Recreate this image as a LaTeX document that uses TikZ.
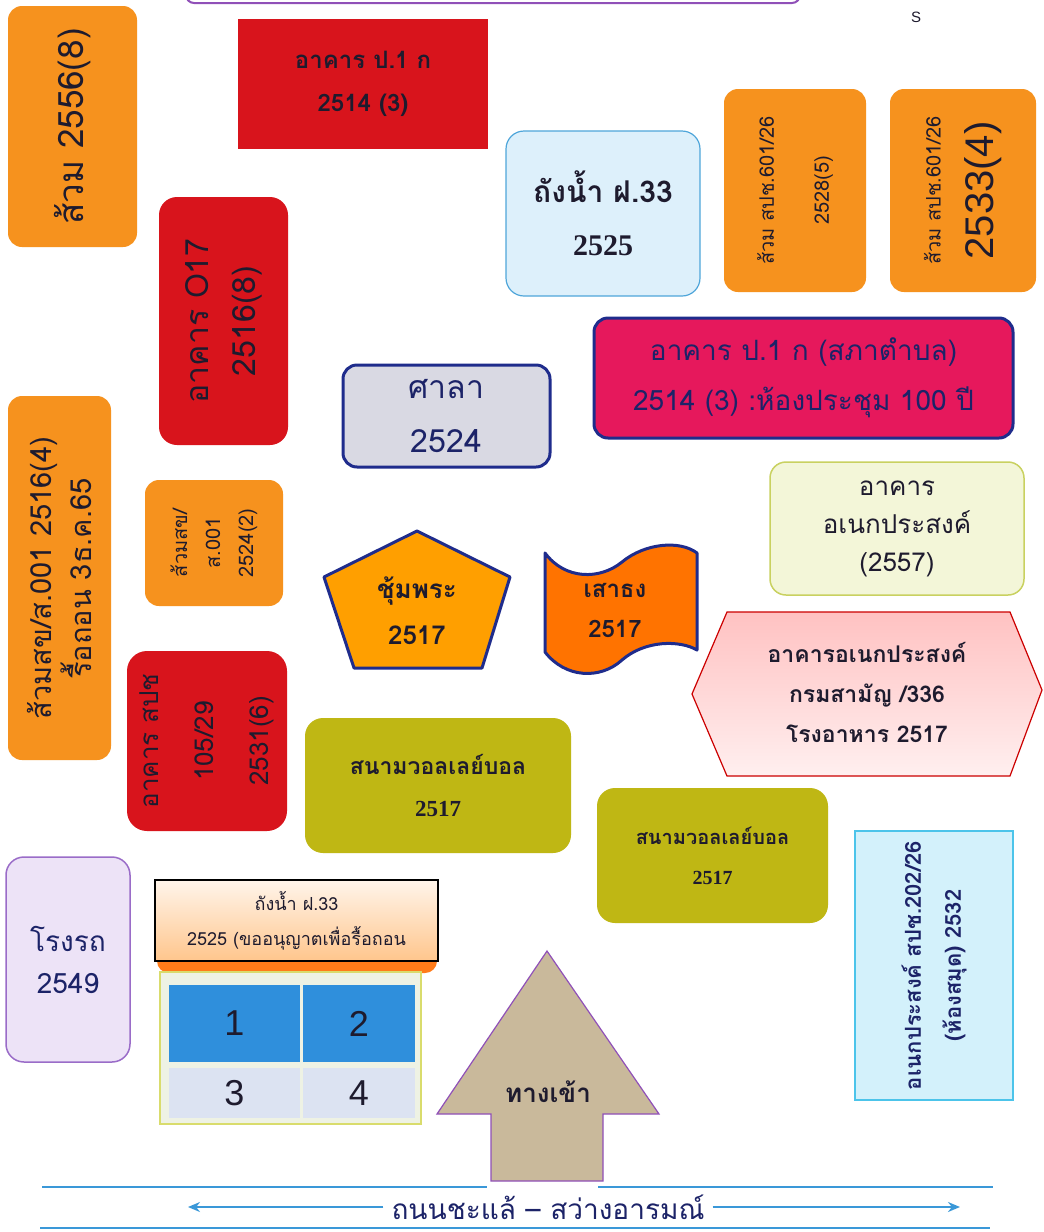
\documentclass[tikz,border=0pt]{standalone}
\usepackage{fontspec}
\newfontfamily\thai[Script=Thai]{Loma}
\newfontfamily\serifnum{Liberation Serif}
\newfontfamily\sansnum{Liberation Sans}
\usetikzlibrary{arrows.meta}
\newcommand{\fz}[2]{\fontsize{#1}{#2}\selectfont}
\definecolor{orgC}{HTML}{F6921E}
\definecolor{redC}{HTML}{D8141C}
\definecolor{pinkC}{HTML}{E6185C}
\definecolor{navyB}{HTML}{1F2C8C}
\definecolor{txtN}{HTML}{1C2368}
\definecolor{txtK}{HTML}{1E1B2E}
\definecolor{oliveC}{HTML}{BFB714}
\definecolor{skyF}{HTML}{DDF0FB}
\definecolor{skyB}{HTML}{4FA6DA}
\definecolor{cyanF}{HTML}{D3F1FB}
\definecolor{cyanB}{HTML}{4CC4EA}
\definecolor{lavF}{HTML}{EDE3F7}
\definecolor{lavB}{HTML}{9A6CC8}
\definecolor{greyF}{HTML}{D9D9E3}
\definecolor{creamF}{HTML}{F3F6D8}
\definecolor{creamB}{HTML}{C9D160}
\definecolor{blueCell}{HTML}{2F8FDC}
\definecolor{paleCell}{HTML}{DCE3F2}
\definecolor{gridB}{HTML}{D9DC6C}
\definecolor{gridF}{HTML}{EEF2E4}
\definecolor{beigeC}{HTML}{C9B99B}
\definecolor{purpB}{HTML}{9050B8}
\definecolor{roadC}{HTML}{3A98D8}
\tikzset{
  box/.style={inner sep=0pt, align=center, font=\thai, text=txtK},
  orgbox/.style={box, fill=orgC, rounded corners=14},
  redbox/.style={box, fill=redC},
  txt/.style={inner sep=0pt, align=center, font=\thai}
}
\begin{document}
\begin{tikzpicture}[x=1pt,y=-1pt]
\useasboundingbox (0,0) rectangle (1044,1232);
\fill[white] (0,0) rectangle (1044,1232);

% top purple frame (cut off)
\draw[purpB, line width=2, rounded corners=8] (186,-20) -- (186,3) -- (800,3) -- (800,-20);
\node[txt, font=\sansnum\fz{15}{17}, text=txtK] (smark) at (916,17) {S};

% A
\node[orgbox, rotate=90, minimum width=241, minimum height=129, font=\thai\fz{35}{40}] (s2556) at (72.5,126.5) {ส้วม 2556(8)};
% B
\node[redbox, minimum width=250, minimum height=130, font=\thai\bfseries\fz{24}{43}] (p1k) at (363,84) {อาคาร ป.1 ก\\2514 (3)};
% C
\node[box, fill=skyF, draw=skyB, line width=1.2, rounded corners=18, minimum width=194, minimum height=165, font=\thai\bfseries\fz{30}{53}] (tank) at (603,213.5) {ถังน้ำ ฝ.33\\{\serifnum\bfseries 2525}};
% D
\node[orgbox, rotate=90, minimum width=203, minimum height=142, font=\thai\fz{20}{55}] (s2528) at (795,190.5) {ส้วม สปช.601/26\\2528(5)};
% E
\node[orgbox, rotate=90, minimum width=203, minimum height=146, font=\thai\fz{20}{53}] (s2533) at (963,190.5) {ส้วม สปช.601/26\\{\sansnum\fz{40}{53}2533(4)}};
% F
\node[redbox, rounded corners=18, rotate=90, minimum width=248, minimum height=129, font=\thai\fz{32}{47}] (o17) at (223.5,321) {อาคาร O17\\2516(8)};
% G
\node[box, fill=pinkC, draw=navyB, line width=3, rounded corners=14, minimum width=419, minimum height=120, text=txtN, font=\thai\fz{28}{50}] (sapha) at (803.5,378) {อาคาร ป.1 ก (สภาตำบล)\\2514 (3) :ห้องประชุม 100 ปี};
% H
\node[box, fill=greyF, draw=navyB, line width=3, rounded corners=14, minimum width=207, minimum height=102, text=txtN, font=\thai\fz{32}{54}] (sala) at (446.5,416) {ศาลา\\2524};
% I
\node[orgbox, rotate=90, minimum width=364, minimum height=103, font=\thai\fz{29}{40}] (s2516) at (59.5,578) {ส้วมสข/ส.001 2516(4)\\รื้อถอน 3ธ.ค.65};
% J
\node[orgbox, rotate=90, minimum width=126, minimum height=138, font=\thai\fz{20}{33}] (s2524) at (214,543) {ส้วมสข/\\ส.001\\2524(2)};
% K
\node[box, fill=creamF, draw=creamB, line width=1.5, rounded corners=16, minimum width=254, minimum height=133, font=\thai\fz{26}{38}] (multi) at (897,528.5) {อาคาร\\อเนกประสงค์\\(2557)};

% L pentagon
\draw[fill=orange!75!yellow, draw=navyB, line width=3, line join=round] (417,531) -- (510,577) -- (482,668) -- (354,668) -- (324,577) -- cycle;
\node[txt, text=txtK, font=\thai\bfseries\fz{26}{46}] (chum) at (417,611) {ชุ้มพระ\\2517};

% M flag
\draw[fill=orange!90!red, draw=navyB, line width=3, line join=round]
  (545,553) .. controls (565,580) and (600,580) .. (622,562)
  .. controls (645,543) and (680,540) .. (697,553)
  -- (697,650)
  .. controls (680,640) and (645,640) .. (622,660)
  .. controls (600,680) and (565,678) .. (545,652) -- cycle;
\node[txt, text=txtK, font=\thai\bfseries\fz{24}{40}] (flag) at (615,610) {เสาธง\\2517};

% N hexagon
\draw[top color=pink!80!red!60, bottom color=pink!25, draw=red!80!black, line width=1.2] (692,694) -- (727,612) -- (1010,612) -- (1042,690) -- (1010,776) -- (727,776) -- cycle;
\node[txt, text=txtK, font=\thai\bfseries\fz{23}{40}] (canteen) at (867,692) {อาคารอเนกประสงค์\\กรมสามัญ /336\\โรงอาหาร 2517};

% O
\node[redbox, rounded corners=20, rotate=90, minimum width=180, minimum height=160, font=\thai\fz{26}{55}] (b105) at (207,741) {อาคาร สปช\\105/29\\2531(6)};
% P
\node[box, fill=oliveC, rounded corners=18, minimum width=266, minimum height=135, font=\thai\bfseries\fz{23}{42}] (volA) at (438,785.5) {สนามวอลเลย์บอล\\{\serifnum\bfseries 2517}};
% Q
\node[box, fill=oliveC, rounded corners=18, minimum width=231, minimum height=135, font=\thai\bfseries\fz{20}{40}] (volB) at (712.5,855.5) {สนามวอลเลย์บอล\\{\serifnum\bfseries 2517}};
% R
\node[box, fill=cyanF, draw=cyanB, line width=1.5, rotate=90, minimum width=269, minimum height=158, text=txtN, font=\thai\bfseries\fz{22}{40}] (lib) at (934,965.5) {อเนกประสงค์ สปช.202/26\\(ห้องสมุด) 2532};
% S
\node[box, fill=lavF, draw=lavB, line width=1.5, rounded corners=18, minimum width=124, minimum height=205, text=txtN, font=\thai\fz{28}{42}] (garage) at (68,959.5) {โรงรถ\\2549};

% T
\fill[orange!85!red!90, rounded corners=12] (157,880) rectangle (437,973);
\node[box, top color=orange!8, bottom color=orange!45, draw=black, line width=2.5, minimum width=283, minimum height=81, font=\thai\fz{18}{35}] (tank2) at (296.5,920.5) {ถังน้ำ ฝ.33\\2525 (ขออนุญาตเพื่อรื้อถอน};

% U grid
\node[box, fill=gridF, draw=gridB, line width=2, minimum width=261, minimum height=152] (grid) at (290.5,1048) {};
\node[box, fill=blueCell, minimum width=131, minimum height=77, font=\sansnum\fz{36}{40}] (c1) at (234.5,1023.5) {1};
\node[box, fill=blueCell, minimum width=112, minimum height=77, font=\sansnum\fz{36}{40}] (c2) at (359,1023.5) {2};
\node[box, fill=paleCell, minimum width=131, minimum height=50, font=\sansnum\fz{36}{40}] (c3) at (234.5,1093) {3};
\node[box, fill=paleCell, minimum width=112, minimum height=50, font=\sansnum\fz{36}{40}] (c4) at (359,1093) {4};

% V entrance arrow
\draw[fill=beigeC, draw=purpB, line width=1.2, line join=miter] (547,951) -- (659,1114) -- (603,1114) -- (603,1181) -- (491,1181) -- (491,1114) -- (437,1114) -- cycle;
\node[txt, text=txtK, font=\thai\bfseries\fz{26}{30}] (entry) at (548,1092) {ทางเข้า};

% W road
\draw[roadC, line width=1.5] (42,1187) -- (487,1187);
\draw[roadC, line width=1.5] (598,1187) -- (993,1187);
\draw[roadC, line width=1.5] (40,1228) -- (990,1228);
\node[txt, text=txtN, font=\thai\fz{28}{30}] (road) at (548,1207) {ถนนชะแล้ – สว่างอารมณ์};
\coordinate (roadL) at (188,1207);
\coordinate (roadR) at (960,1207);
\draw[roadC, line width=1.8, -{Stealth[length=12pt,width=10pt]}] ([xshift=-8pt]road.west) -- (roadL);
\draw[roadC, line width=1.8, -{Stealth[length=12pt,width=10pt]}] ([xshift=8pt]road.east) -- (roadR);
\end{tikzpicture}
\end{document}
